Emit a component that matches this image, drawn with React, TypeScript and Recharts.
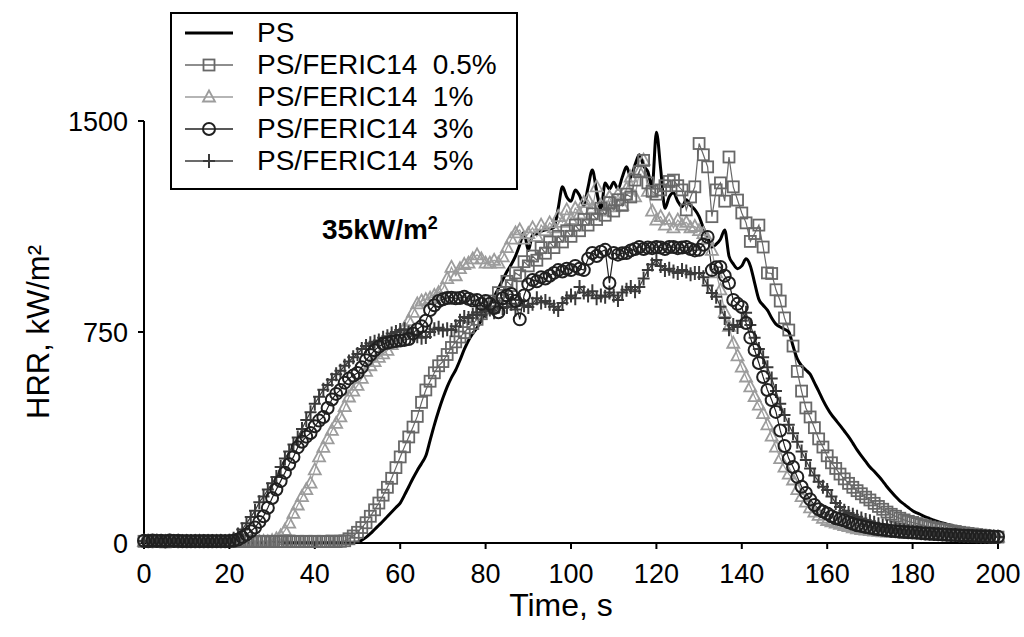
import React from "react";
import { LineChart, Line, XAxis, YAxis, Label } from "recharts";

/* ── HRR curves at 35 kW/m², sampled every 1 s ── */

const TIME: number[] = Array.from({ length: 201 }, (_, i) => i);

const X_TICKS = [0, 20, 40, 60, 80, 100, 120, 140, 160, 180, 200];
const Y_TICKS = [0, 750, 1500];

// neat PS
const PS = [
  0, 0, 0, 0, 0, 0, 0, 0, 0, 0,
  0, 0, 0, 0, 0, 0, 0, 0, 0, 0,
  0, 0, 0, 0, 0, 0, 0, 0, 0, 0,
  0, 0, 0, 0, 0, 0, 0, 0, 0, 0,
  0, 0, 0, 0, 0, 0, 0, 0, 1, 2,
  3, 10, 20, 33, 48, 63, 78, 94, 110, 126,
  142, 170, 200, 230, 258, 283, 310, 365, 420, 470,
  515, 555, 588, 615, 650, 688, 720, 745, 765, 792,
  820, 848, 875, 905, 935, 965, 990, 1020, 1060, 1105,
  1040, 1095, 1100, 1108, 1113, 1116, 1122, 1190, 1266, 1230,
  1215, 1255, 1235, 1200, 1265, 1326, 1250, 1185, 1280, 1258,
  1282, 1258, 1300, 1337, 1300, 1345, 1380, 1340, 1320, 1265,
  1460, 1330, 1190, 1230, 1245, 1215, 1195, 1220, 1200, 1185,
  1160, 1120, 1088, 1052, 1062, 1080, 1113, 1020, 992, 975,
  985, 1010, 985, 925, 866, 845, 828, 800, 778, 768,
  760, 750, 700, 655, 630, 615, 600, 570, 540, 508,
  480, 456, 437, 418, 398, 378, 355, 331, 310, 290,
  270, 255, 238, 220, 200, 182, 165, 150, 138, 126,
  115, 107, 100, 93, 87, 81, 76, 71, 67, 63,
  59, 55, 51, 47, 44, 42, 40, 38, 36, 34,
  32,
];

// PS/FERIC14 0.5%
const P05 = [
  6, 5, 7, 5, 6, 4, 6, 5, 7, 5,
  6, 5, 6, 5, 7, 5, 6, 5, 6, 5,
  6, 5, 6, 5, 7, 5, 6, 5, 6, 5,
  6, 5, 6, 5, 7, 5, 6, 5, 6, 5,
  6, 5, 6, 5, 7, 5, 6, 8, 15, 25,
  38, 55, 72, 95, 118, 142, 170, 198, 230, 268,
  306, 342, 377, 412, 450, 500, 544, 575, 605, 630,
  645, 670, 695, 715, 732, 748, 765, 780, 795, 815,
  835, 860, 850, 890, 880, 930, 915, 960, 950, 1000,
  985, 1020, 1005, 1050, 1030, 1070, 1050, 1090, 1070, 1110,
  1090, 1130, 1110, 1150, 1130, 1170, 1150, 1190, 1165, 1210,
  1180, 1220, 1200, 1240, 1230, 1290, 1320, 1360, 1280, 1250,
  1240, 1255, 1270, 1285, 1290, 1270, 1255, 1184, 1230, 1266,
  1420, 1380, 1337, 1160, 1255, 1280, 1215, 1372, 1266, 1219,
  1173, 1138, 1072, 1100, 1130, 1052, 960, 958, 900, 860,
  800, 757, 700, 610, 540, 480, 448, 410, 370, 341,
  310, 285, 265, 245, 228, 212, 198, 186, 175, 163,
  153, 141, 130, 120, 110, 102, 95, 88, 82, 77,
  73, 69, 65, 61, 57, 54, 51, 48, 46, 43,
  41, 38, 36, 34, 32, 30, 28, 26, 24, 22,
  21,
];

// PS/FERIC14 1%
const P1 = [
  5, 4, 5, 6, 4, 5, 4, 5, 6, 4,
  5, 4, 5, 6, 4, 5, 4, 5, 6, 4,
  5, 4, 5, 6, 4, 5, 4, 5, 6, 4,
  8, 15, 25, 45, 71, 105, 135, 165, 190, 213,
  260, 306, 340, 370, 400, 425, 448, 485, 519, 540,
  560, 585, 610, 630, 645, 660, 672, 685, 705, 725,
  745, 765, 790, 820, 850, 860, 865, 870, 880, 890,
  905, 940, 980, 950, 975, 990, 995, 1010, 1024, 1010,
  995, 995, 1005, 995, 1017, 1050, 1080, 1102, 1113, 1080,
  1100, 1120, 1090, 1130, 1110, 1138, 1120, 1160, 1140, 1184,
  1150, 1190, 1170, 1210, 1219, 1190, 1266, 1200, 1180, 1230,
  1195, 1240, 1200, 1260, 1301, 1230, 1320, 1361, 1250, 1180,
  1148, 1160, 1130, 1150, 1120, 1148, 1130, 1140, 1120, 1125,
  1110, 1100, 1080, 1040, 960, 900, 820, 770, 710, 665,
  625, 590, 555, 520, 490, 460, 420, 380, 341, 300,
  270, 245, 224, 190, 165, 145, 125, 110, 98, 88,
  80, 75, 71, 66, 62, 58, 54, 50, 48, 46,
  44, 42, 41, 40, 39, 38, 37, 37, 36, 36,
  35, 35, 34, 33, 32, 31, 30, 29, 28, 27,
  26, 26, 25, 24, 24, 23, 23, 22, 22, 21,
  21,
];

// PS/FERIC14 3%
const P3 = [
  8, 6, 9, 7, 8, 6, 9, 7, 8, 6,
  7, 6, 7, 6, 7, 6, 7, 6, 7, 6,
  7, 8, 12, 21, 30, 42, 55, 75, 95, 125,
  160, 190, 220, 250, 280, 306, 340, 360, 378, 391,
  415, 435, 448, 480, 510, 530, 544, 570, 585, 595,
  604, 625, 650, 668, 685, 698, 708, 712, 715, 718,
  720, 722, 725, 745, 760, 770, 790, 828, 845, 860,
  866, 871, 872, 870, 871, 875, 868, 862, 864, 850,
  860, 850, 835, 820, 870, 880, 885, 860, 795, 880,
  920, 935, 930, 945, 940, 950, 960, 970, 965, 975,
  970, 985, 975, 970, 1010, 1031, 1020, 1035, 1042, 924,
  1031, 1025, 1030, 1031, 1040, 1045, 1052, 1045, 1050, 1048,
  1052, 1050, 1045, 1052, 1052, 1048, 1050, 1052, 1045, 1040,
  1042, 1060, 1088, 970, 980, 981, 950, 924, 864, 850,
  839, 782, 730, 686, 640, 590, 544, 508, 466, 400,
  345, 300, 270, 235, 200, 178, 155, 135, 120, 112,
  105, 95, 88, 84, 80, 74, 68, 63, 60, 57,
  54, 51, 49, 47, 45, 43, 42, 40, 39, 38,
  37, 36, 35, 34, 33, 32, 31, 30, 29, 28,
  28, 27, 26, 26, 25, 24, 24, 23, 23, 22,
  22,
];

// PS/FERIC14 5%
const P5 = [
  7, 8, 6, 8, 7, 6, 8, 7, 6, 7,
  6, 7, 6, 7, 6, 7, 6, 7, 6, 7,
  8, 15, 30, 48, 70, 92, 115, 145, 165, 190,
  212, 235, 270, 300, 325, 350, 375, 405, 437, 465,
  495, 520, 545, 562, 580, 600, 612, 630, 645, 660,
  672, 690, 700, 710, 715, 720, 730, 735, 745, 750,
  757, 760, 748, 740, 735, 730, 732, 750, 760, 765,
  755, 760, 757, 770, 790, 803, 800, 810, 820, 810,
  825, 830, 820, 840, 835, 839, 850, 830, 864, 845,
  839, 850, 870, 855, 860, 850, 840, 828, 853, 870,
  880, 870, 910, 890, 880, 895, 870, 880, 875, 890,
  880, 864, 890, 900, 910, 895, 910, 940, 970, 990,
  1006, 985, 970, 975, 965, 960, 970, 965, 955, 960,
  960, 945, 915, 889, 875, 840, 800, 760, 775, 768,
  790, 818, 775, 730, 690, 660, 625, 585, 540, 495,
  455, 420, 390, 360, 325, 295, 265, 240, 218, 200,
  188, 165, 142, 128, 115, 107, 100, 93, 87, 82,
  77, 72, 67, 62, 58, 54, 51, 46, 44, 42,
  40, 38, 37, 35, 34, 33, 32, 31, 30, 29,
  28, 27, 26, 25, 25, 24, 23, 23, 22, 22,
  21,
];

const FONT = '"Liberation Sans", Arial, sans-serif';

const C_PS = "#000000";
const C_05 = "#686868";
const C_1 = "#9c9c9c";
const C_3 = "#202020";
const C_5 = "#3a3a3a";

const data = TIME.map((t, i) => ({
  t,
  ps: PS[i],
  p05: P05[i],
  p1: P1[i],
  p3: P3[i],
  p5: P5[i],
}));

/* marker shapes */
function Square({ cx, cy, color }: { cx: number; cy: number; color: string }) {
  return <rect x={cx - 5.5} y={cy - 5.5} width={11} height={11} fill="none" stroke={color} strokeWidth={1.8} />;
}
function Tri({ cx, cy, color }: { cx: number; cy: number; color: string }) {
  return (
    <path d={`M${cx},${cy - 6.5} L${cx + 6},${cy + 4.5} L${cx - 6},${cy + 4.5} Z`} fill="none" stroke={color} strokeWidth={1.8} />
  );
}
function Circ({ cx, cy, color }: { cx: number; cy: number; color: string }) {
  return <circle cx={cx} cy={cy} r={6} fill="none" stroke={color} strokeWidth={2} />;
}
function Plus({ cx, cy, color }: { cx: number; cy: number; color: string }) {
  return (
    <path d={`M${cx - 6},${cy} L${cx + 6},${cy} M${cx},${cy - 7} L${cx},${cy + 7}`} stroke={color} strokeWidth={2} fill="none" />
  );
}

const makeDot = (Shape: any, color: string) => (props: any) => {
  const { cx, cy, index } = props;
  if (cx == null || cy == null) return <g key={`d${index}`} />;
  return (
    <g key={`d${index}`}>
      <Shape cx={cx} cy={cy} color={color} />
    </g>
  );
};

const LEGEND = [
  { label: "PS", color: C_PS, shape: null as any, width: 3 },
  { label: "PS/FERIC14  0.5%", color: C_05, shape: Square, width: 1.5 },
  { label: "PS/FERIC14  1%", color: C_1, shape: Tri, width: 1.5 },
  { label: "PS/FERIC14  3%", color: C_3, shape: Circ, width: 1.5 },
  { label: "PS/FERIC14  5%", color: C_5, shape: Plus, width: 1.5 },
];

function LegendBox() {
  return (
    <div
      style={{
        position: "absolute",
        left: 170,
        top: 12,
        width: 344,
        height: 174,
        border: "2px solid #000",
        background: "#fff",
        fontFamily: FONT,
        fontSize: 28,
        color: "#000",
      }}
    >
      {LEGEND.map((item, i) => (
        <div
          key={item.label}
          style={{ position: "absolute", left: 0, top: 3 + i * 32, height: 32, display: "flex", alignItems: "center" }}
        >
          <svg width={80} height={32} style={{ display: "block" }}>
            <line x1={13} x2={61} y1={16} y2={16} stroke={item.color} strokeWidth={item.width} />
            {item.shape ? <item.shape cx={37} cy={16} color={item.color} /> : null}
          </svg>
          <span style={{ whiteSpace: "pre", marginLeft: 5, lineHeight: "32px" }}>{item.label}</span>
        </div>
      ))}
    </div>
  );
}

export default function App() {
  const tickStyle = { fontSize: 27, fill: "#000", fontFamily: FONT };

  return (
    <div style={{ position: "absolute", left: 0, top: 0, width: 1024, height: 637, background: "#fff", overflow: "hidden" }}>
      <LineChart width={1024} height={637} data={data} margin={{ top: 121, right: 26, bottom: 14, left: 10 }}>
        <XAxis
          dataKey="t"
          type="number"
          domain={[0, 200]}
          ticks={X_TICKS}
          interval={0}
          tick={tickStyle}
          tickSize={6}
          tickMargin={15}
          axisLine={{ stroke: "#000", strokeWidth: 2 }}
          tickLine={{ stroke: "#000", strokeWidth: 2 }}
          height={80}
        >
          <Label
            content={({ viewBox }: any) => (
              <text
                x={viewBox.x + viewBox.width / 2 - 10}
                y={viewBox.y + viewBox.height - 7}
                textAnchor="middle"
                fontFamily={FONT}
                fontSize={32}
                fill="#000"
              >
                Time, s
              </text>
            )}
          />
        </XAxis>
        <YAxis
          type="number"
          domain={[0, 1500]}
          ticks={Y_TICKS}
          interval={0}
          tick={tickStyle}
          tickSize={6}
          tickMargin={10}
          axisLine={{ stroke: "#000", strokeWidth: 2 }}
          tickLine={{ stroke: "#000", strokeWidth: 2 }}
          width={134}
        >
          <Label
            content={({ viewBox }: any) => {
              const x = viewBox.x + 28;
              const y = viewBox.y + viewBox.height / 2;
              return (
                <text
                  x={x}
                  y={y}
                  transform={`rotate(-90 ${x} ${y})`}
                  textAnchor="middle"
                  dominantBaseline="central"
                  fontFamily={FONT}
                  fontSize={31}
                  fill="#000"
                >
                  HRR, kW/m²
                </text>
              );
            }}
          />
        </YAxis>
        <Line dataKey="p1" type="linear" stroke={C_1} strokeWidth={1.2} dot={makeDot(Tri, C_1)} isAnimationActive={false} />
        <Line dataKey="p05" type="linear" stroke={C_05} strokeWidth={1.2} dot={makeDot(Square, C_05)} isAnimationActive={false} />
        <Line dataKey="p5" type="linear" stroke={C_5} strokeWidth={1.2} dot={makeDot(Plus, C_5)} isAnimationActive={false} />
        <Line dataKey="p3" type="linear" stroke={C_3} strokeWidth={1.2} dot={makeDot(Circ, C_3)} isAnimationActive={false} />
        <Line dataKey="ps" type="monotone" stroke={C_PS} strokeWidth={3} dot={false} isAnimationActive={false} />
      </LineChart>

      <div
        style={{
          position: "absolute",
          left: 322,
          top: 213,
          fontFamily: FONT,
          fontWeight: "bold",
          fontSize: 28,
          color: "#000",
          whiteSpace: "nowrap",
        }}
      >
        35kW/m<sup style={{ fontSize: 18 }}>2</sup>
      </div>

      <LegendBox />
    </div>
  );
}
